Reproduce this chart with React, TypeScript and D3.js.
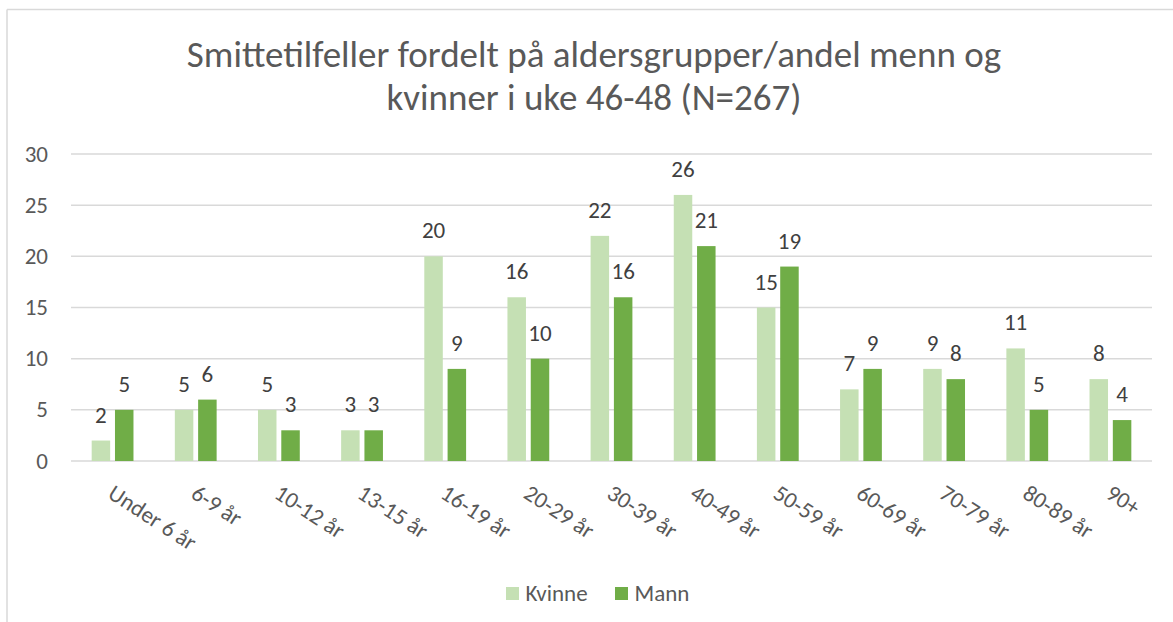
import React from "react";
import * as d3 from "d3";

const categories = ["Under 6 år", "6-9 år", "10-12 år", "13-15 år", "16-19 år", "20-29 år", "30-39 år", "40-49 år", "50-59 år", "60-69 år", "70-79 år", "80-89 år", "90+"];
const kvinne = [2, 5, 5, 3, 20, 16, 22, 26, 15, 7, 9, 11, 8];
const mann = [5, 6, 3, 3, 9, 10, 16, 21, 19, 9, 8, 5, 4];
const yTicks = [0, 5, 10, 15, 20, 25, 30];
const titleLines = ["Smittetilfeller fordelt på aldersgrupper/andel menn og", "kvinner i uke 46-48 (N=267)"];
const seriesNames = ["Kvinne", "Mann"];
const colors = ["#C5E0B4", "#70AD47"];

const W = 1173, H = 622;
const FONT = "Carlito, Calibri, Lato, sans-serif";

export default function App() {
  const x = d3.scaleBand<string>().domain(categories).range([71, 1152]).padding(0);
  const y = d3.scaleLinear().domain([0, 30]).range([461, 154]);
  const barW = 18.5, gap = 4.8;
  const series = [kvinne, mann];
  return (
    <svg width={W} height={H} style={{ position: "absolute", left: 0, top: 0, background: "#fff" }} fontFamily={FONT}>
      <rect x={0} y={0} width={W} height={H} fill="#fff" />
      <line x1={7} y1={9.5} x2={W} y2={9.5} stroke="#D9D9D9" strokeWidth={1.5} />
      <line x1={7} y1={9.5} x2={7} y2={H} stroke="#D9D9D9" strokeWidth={1.5} />
      {titleLines.map((t, i) => (
        <text key={i} x={594} y={66.5 + i * 43.5} textAnchor="middle" fontSize={37} fill="#595959">{t}</text>
      ))}
      {yTicks.map((t) => (
        <g key={t}>
          <line x1={71} x2={1152} y1={y(t)} y2={y(t)} stroke="#D9D9D9" strokeWidth={1.5} />
          <text x={48} y={y(t)} dy="0.33em" textAnchor="end" fontSize={23} fill="#595959">{t}</text>
        </g>
      ))}
      {categories.map((c, i) => {
        const cx = (x(c) as number) + x.bandwidth() / 2;
        return (
          <g key={c}>
            {series.map((s, si) => {
              const bx = si === 0 ? cx - gap / 2 - barW : cx + gap / 2;
              return (
                <g key={si}>
                  <rect x={bx} y={y(s[i])} width={barW} height={y(0) - y(s[i])} fill={colors[si]} />
                  <text x={bx + barW / 2} y={y(s[i]) - 18} textAnchor="middle" fontSize={23} fill="#404040">{s[i]}</text>
                </g>
              );
            })}
            <text transform={`translate(${cx - 6},${497}) rotate(33)`} fontSize={23} fill="#595959">{c}</text>
          </g>
        );
      })}
      {seriesNames.map((n, i) => {
        const lx = i === 0 ? 506 : 615;
        return (
          <g key={n}>
            <rect x={lx} y={587} width={13} height={13} fill={colors[i]} />
            <text x={lx + 19.5} y={600.5} fontSize={23} fill="#595959">{n}</text>
          </g>
        );
      })}
    </svg>
  );
}
